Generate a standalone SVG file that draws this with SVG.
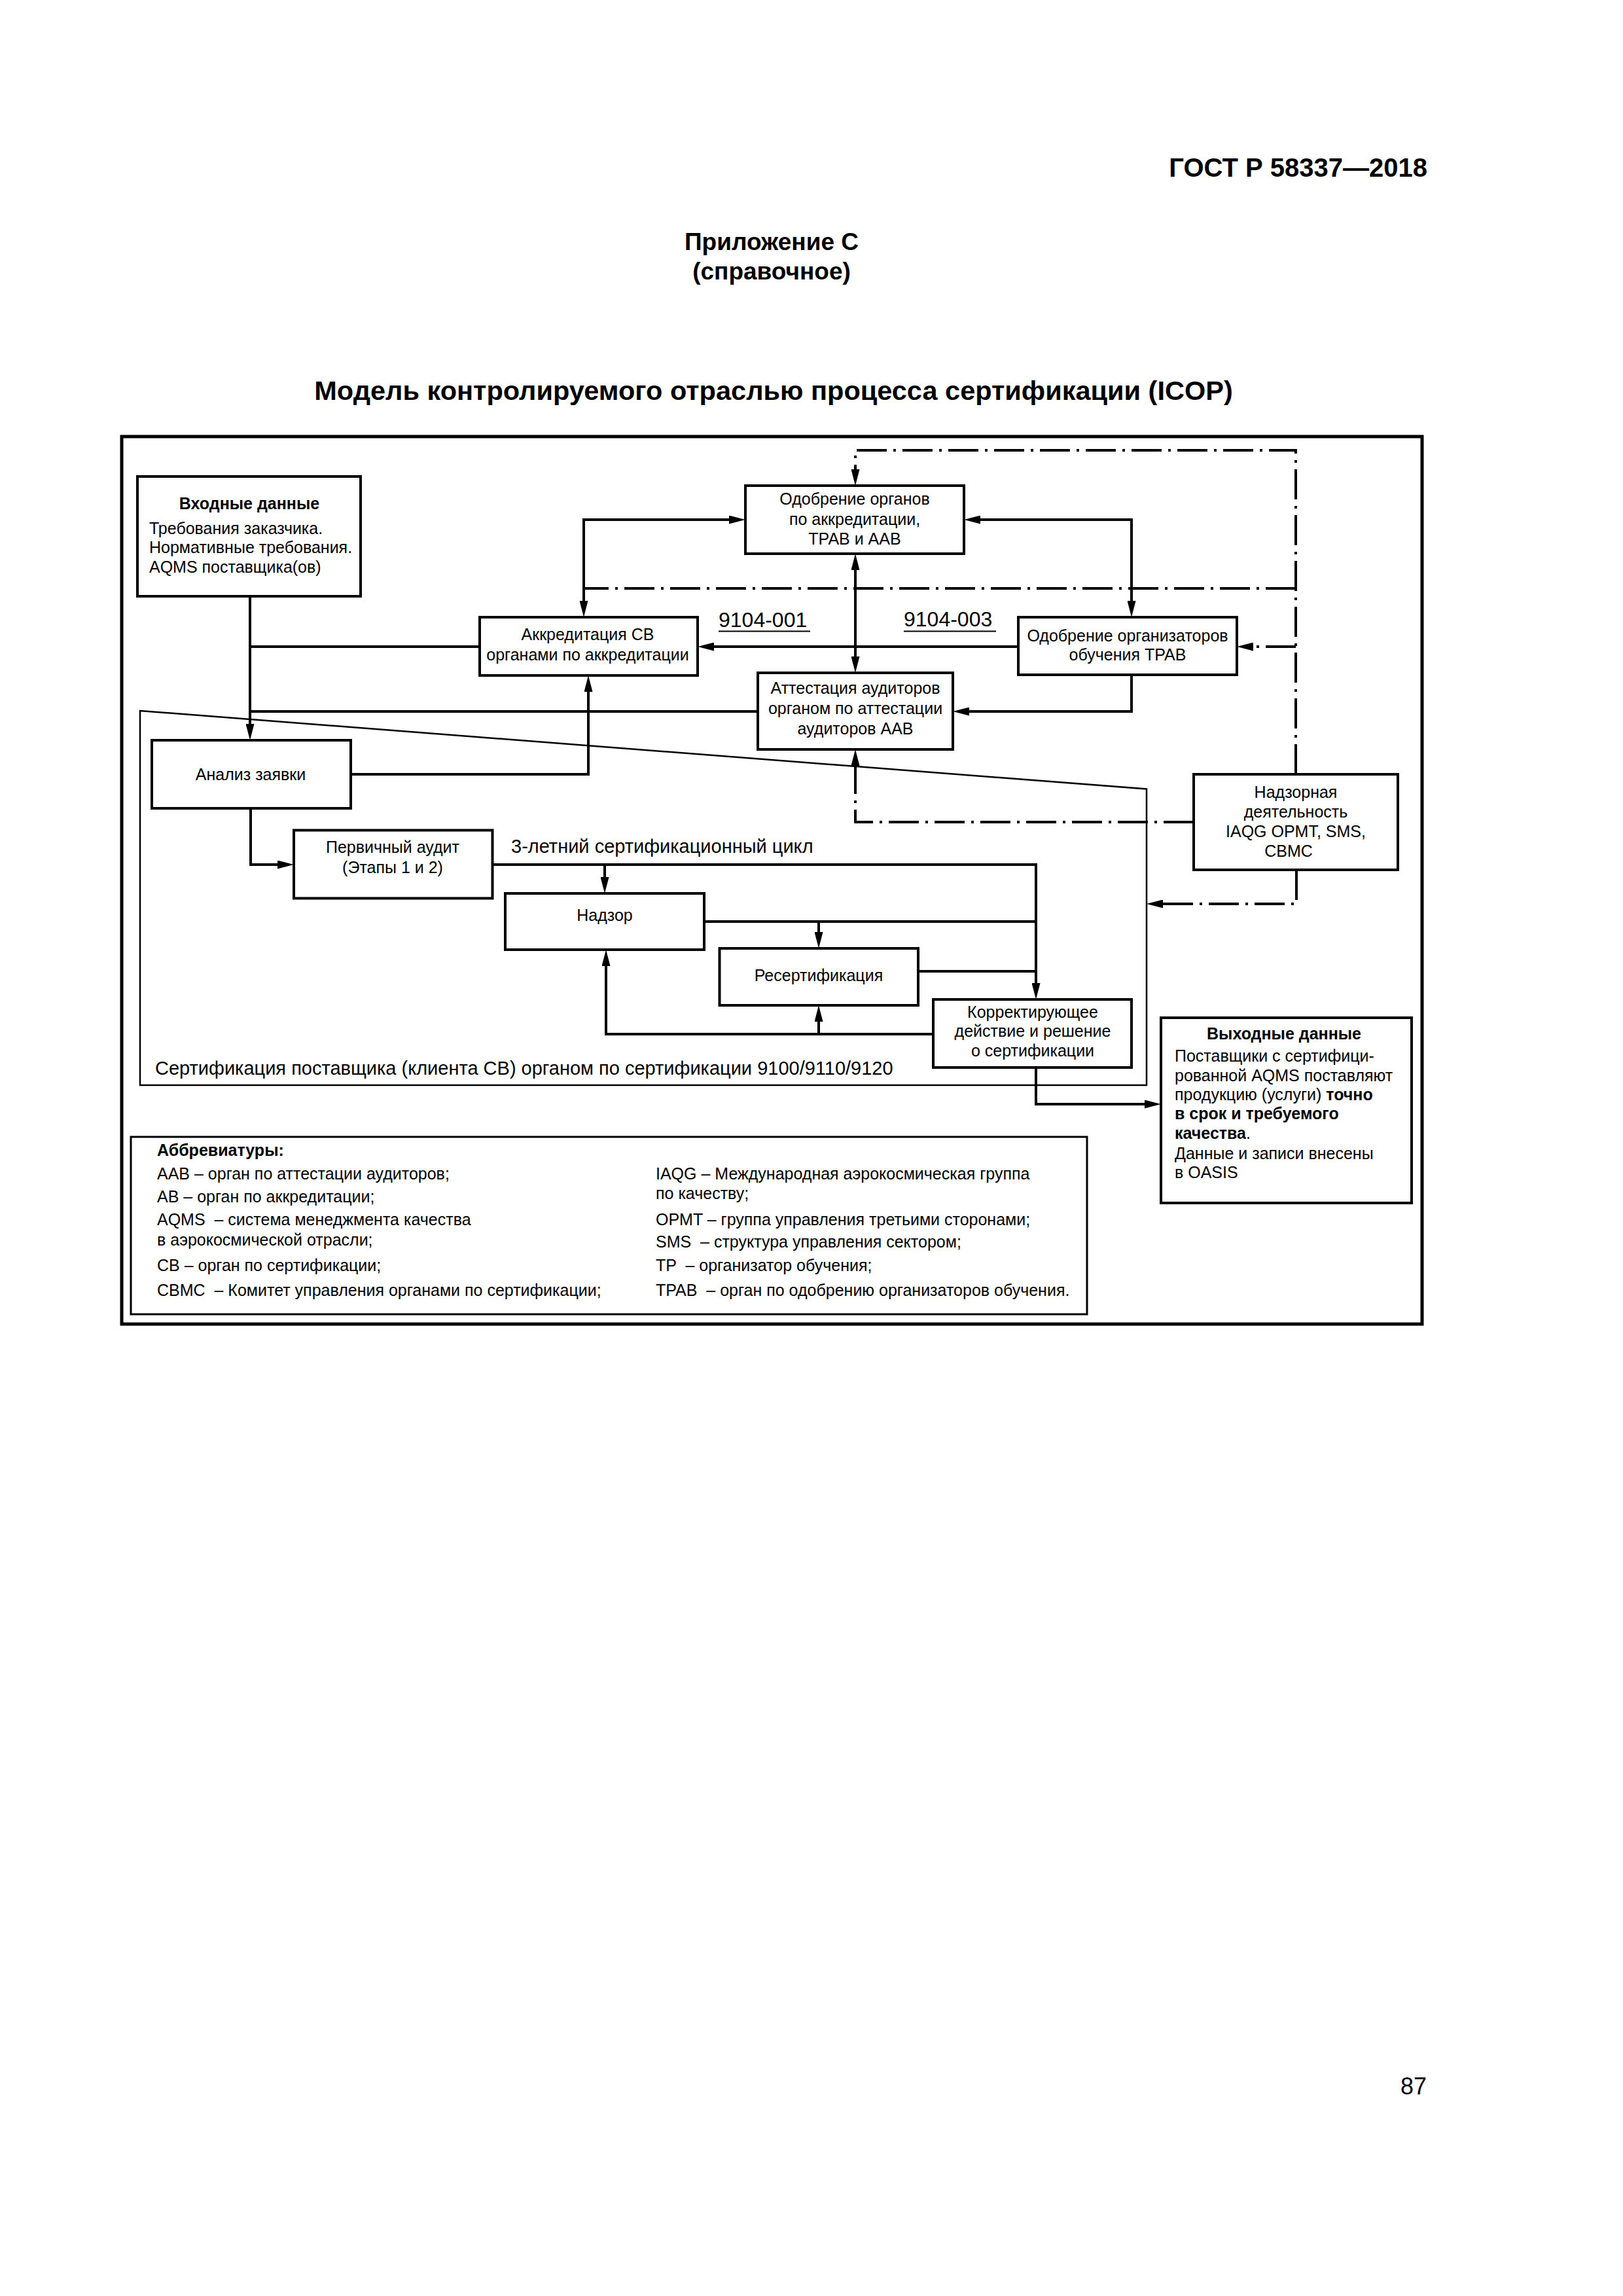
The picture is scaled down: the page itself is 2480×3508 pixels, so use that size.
<svg xmlns="http://www.w3.org/2000/svg" width="2480" height="3508" viewBox="0 0 2480 3508">
<style>
text{font-family:"Liberation Sans",Arial,sans-serif;font-size:25px;fill:#000}
.c{text-anchor:middle}
.b{font-weight:bold}
.pre{white-space:pre}
.box{fill:#fff;stroke:#000;stroke-width:4}
.ln{fill:none;stroke:#000;stroke-width:4}
.dd{fill:none;stroke:#000;stroke-width:4;stroke-dasharray:46 10 4 10}
.arr{marker-end:url(#ah)}
.arr2{marker-start:url(#ah);marker-end:url(#ah)}
</style>
<defs>
<marker id="ah" markerUnits="userSpaceOnUse" viewBox="0 0 25 13" markerWidth="25" markerHeight="13" refX="5" refY="6.5" orient="auto-start-reverse">
<path d="M0,0 L25,6.5 L0,13 z" fill="#000"/>
</marker>
</defs>
<rect width="2480" height="3508" fill="#fff"/>

<g id="header">
<text class="b" x="2181" y="270" style="font-size:40px" text-anchor="end">ГОСТ Р 58337—2018</text>
<text class="b c" x="1179" y="382" style="font-size:37px">Приложение С</text>
<text class="b c" x="1179" y="427" style="font-size:37px">(справочное)</text>
<text class="b c" x="1182" y="611" style="font-size:41.5px">Модель контролируемого отраслью процесса сертификации (ICOP)</text>
</g>

<rect id="frame" x="186" y="667" width="1987" height="1356" fill="none" stroke="#000" stroke-width="5"/>

<g id="region">
<polygon points="214,1086 1752,1205.5 1752,1658 214,1658" fill="none" stroke="#000" stroke-width="2.5"/>
<text x="237" y="1642" style="font-size:29px">Сертификация поставщика (клиента CB) органом по сертификации 9100/9110/9120</text>
</g>

<g id="connectors">
<path class="ln arr" d="M382,911 V1111"/>
<path class="ln" d="M733,988 H382"/>
<path class="ln" d="M1158,1087 H382"/>
<path class="ln arr2" d="M1119,794 H892 V923"/>
<path class="ln arr2" d="M1493,794 H1729 V923"/>
<path class="ln arr2" d="M1307,866 V1008"/>
<path class="ln arr" d="M1556,988 H1086"/>
<path class="ln arr" d="M1729,1031 V1087 H1476"/>
<path class="ln arr" d="M536,1183 H899 V1052"/>
<path class="ln arr" d="M383,1235 V1321 H429"/>
<path class="ln arr" d="M752,1321 H1583 V1507"/>
<path class="ln arr" d="M924,1321 V1345"/>
<path class="ln" d="M1076,1408 H1583"/>
<path class="ln arr" d="M1251,1408 V1429"/>
<path class="ln" d="M1403,1484 H1583"/>
<path class="ln arr" d="M1426,1580 H926 V1471"/>
<path class="ln arr" d="M1251,1580 V1556"/>
<path class="ln arr" d="M1583,1631 V1687 H1754"/>
<path class="dd arr" d="M1980,1183 V688 H1307 V722"/>
<path class="dd" d="M1980,899 H892"/>
<path class="dd arr" d="M1980,988 H1910"/>
<path class="dd arr" d="M1824,1256 H1307 V1165"/>
<path class="dd arr" d="M1981,1329 V1381 H1772"/>
<text x="1098" y="958" style="font-size:32px">9104-001</text>
<line x1="1098" y1="964.5" x2="1238" y2="964.5" stroke="#000" stroke-width="2"/>
<text x="1381" y="957" style="font-size:32px">9104-003</text>
<line x1="1381" y1="964.5" x2="1522" y2="964.5" stroke="#000" stroke-width="2"/>
<text x="781" y="1303" style="font-size:29px">3-летний сертификационный цикл</text>
</g>

<g id="input">
<rect class="box" x="210" y="728" width="341" height="183"/>
<text class="b c" x="381" y="778">Входные данные</text>
<text x="228" y="816">Требования заказчика.</text>
<text x="228" y="845">Нормативные требования.</text>
<text x="228" y="875">AQMS поставщика(ов)</text>
</g>

<g id="approval">
<rect class="box" x="1139" y="742" width="334" height="104"/>
<text class="c" x="1306" y="771">Одобрение органов</text>
<text class="c" x="1306" y="802">по аккредитации,</text>
<text class="c" x="1306" y="832">TPAB и AAB</text>
</g>

<g id="accreditation">
<rect class="box" x="733" y="943" width="333" height="89"/>
<text class="c" x="898" y="978">Аккредитация CB</text>
<text class="c" x="898" y="1009">органами по аккредитации</text>
</g>

<g id="tpab">
<rect class="box" x="1556" y="943" width="334" height="88"/>
<text class="c" x="1723" y="980">Одобрение организаторов</text>
<text class="c" x="1723" y="1009">обучения TPAB</text>
</g>

<g id="aab">
<rect class="box" x="1158" y="1028" width="298" height="117"/>
<text class="c" x="1307" y="1060">Аттестация аудиторов</text>
<text class="c" x="1307" y="1091">органом по аттестации</text>
<text class="c" x="1307" y="1122">аудиторов AAB</text>
</g>

<g id="analysis">
<rect class="box" x="232" y="1131" width="304" height="104"/>
<text class="c" x="383" y="1192">Анализ заявки</text>
</g>

<g id="oversight">
<rect class="box" x="1824" y="1183" width="312" height="146"/>
<text class="c" x="1980" y="1219">Надзорная</text>
<text class="c" x="1980" y="1249">деятельность</text>
<text class="c" x="1980" y="1279">IAQG OPMT, SMS,</text>
<text class="c" x="1969" y="1309">CBMC</text>
</g>

<g id="initial-audit">
<rect class="box" x="449" y="1268.5" width="303.5" height="104"/>
<text class="c" x="600" y="1303">Первичный аудит</text>
<text class="c" x="600" y="1334">(Этапы 1 и 2)</text>
</g>

<g id="surveillance">
<rect class="box" x="772" y="1365" width="304" height="86"/>
<text class="c" x="924" y="1407">Надзор</text>
</g>

<g id="recertification">
<rect class="box" x="1099.5" y="1449" width="303.5" height="87"/>
<text class="c" x="1251" y="1499">Ресертификация</text>
</g>

<g id="corrective">
<rect class="box" x="1426" y="1527" width="303" height="104"/>
<text class="c" x="1578" y="1555">Корректирующее</text>
<text class="c" x="1578" y="1584">действие и решение</text>
<text class="c" x="1578" y="1614">о сертификации</text>
</g>

<g id="output">
<rect class="box" x="1774" y="1555" width="383" height="283"/>
<text class="b c" x="1962" y="1588">Выходные данные</text>
<text x="1795" y="1622">Поставщики с сертифици-</text>
<text x="1795" y="1652">рованной AQMS поставляют</text>
<text x="1795" y="1681">продукцию (услуги) <tspan class="b">точно</tspan></text>
<text x="1795" y="1710" class="b">в срок и требуемого</text>
<text x="1795" y="1740"><tspan class="b">качества</tspan>.</text>
<text x="1795" y="1771">Данные и записи внесены</text>
<text x="1795" y="1800">в OASIS</text>
</g>

<g id="abbreviations">
<rect x="200" y="1737" width="1461" height="271" fill="none" stroke="#000" stroke-width="3"/>
<text class="b" x="240" y="1766">Аббревиатуры:</text>
<text x="240" y="1802">AAB – орган по аттестации аудиторов;</text>
<text x="240" y="1837">AB – орган по аккредитации;</text>
<text class="pre" x="240" y="1872">AQMS  – система менеджмента качества</text>
<text x="240" y="1903">в аэрокосмической отрасли;</text>
<text x="240" y="1942">CB – орган по сертификации;</text>
<text class="pre" x="240" y="1980">CBMC  – Комитет управления органами по сертификации;</text>
<text x="1002" y="1802">IAQG – Международная аэрокосмическая группа</text>
<text x="1002" y="1832">по качеству;</text>
<text x="1002" y="1872">OPMT – группа управления третьими сторонами;</text>
<text class="pre" x="1002" y="1906">SMS  – структура управления сектором;</text>
<text class="pre" x="1002" y="1942">TP  – организатор обучения;</text>
<text class="pre" x="1002" y="1980">TPAB  – орган по одобрению организаторов обучения.</text>
</g>

<text id="page-number" x="2180" y="3200" text-anchor="end" style="font-size:36px">87</text>
</svg>
